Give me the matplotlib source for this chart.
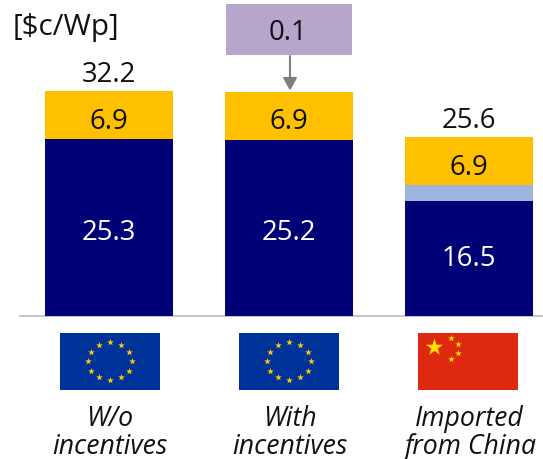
import numpy as np
import matplotlib
matplotlib.use("Agg")
import matplotlib.pyplot as plt
from matplotlib.patches import Rectangle

# Cost stack per sourcing case, in $c/Wp
categories = ["W/o\nincentives", "With\nincentives", "Imported\nfrom China"]
module_cost = [25.3, 25.2, 16.5]
freight_cost = [0.0, 0.0, 2.2]
bos_cost = [6.9, 6.9, 6.9]
totals = ["32.2", None, "25.6"]
incentive_label = "0.1"
unit_label = "[$c/Wp]"

NAVY = "#000077"
LIGHT = "#9DB5DC"
AMBER = "#FFC000"
INK = "#111111"

W, H = 543, 460
plt.rcParams["font.family"] = ["Open Sans", "DejaVu Sans"]
fig = plt.figure(figsize=(W / 100, H / 100), dpi=100)
ax = fig.add_axes([0, 0, 1, 1])

# Axis limits set so one category step is 180 px and one unit is 6.98 px
step, unit, x0, y0 = 180.0, 6.98, 109.0, 317.0
ax.set_xlim(-x0 / step, (W - x0) / step)
ax.set_ylim(-(H - y0) / unit, y0 / unit)
ax.axis("off")


def px(x):
    return (x - x0) / step


def py(y):
    return (y0 - y) / unit


xs = np.arange(len(categories))
bar_w = 128.5 / step
module = np.array(module_cost)
freight = np.array(freight_cost)
bos = np.array(bos_cost)
ax.bar(xs, module, bar_w, color=NAVY, zorder=2)
ax.bar(xs, freight, bar_w, bottom=module, color=LIGHT, zorder=2)
ax.bar(xs, bos, bar_w, bottom=module + freight, color=AMBER, zorder=2)

FS = 19.8
module_shift = [-0.6, -0.6, 0.05]
for i in xs:
    ax.text(i, module[i] / 2 + module_shift[i], f"{module[i]:.1f}", color="white",
            ha="center", va="center", fontsize=FS, zorder=3)
    ax.text(i, module[i] + freight[i] + bos[i] / 2 - 0.75, f"{bos[i]:.1f}", color=INK,
            ha="center", va="center", fontsize=FS, zorder=3)
    if totals[i]:
        ax.text(i, module[i] + freight[i] + bos[i] + 2.5, totals[i], color=INK,
                ha="center", va="center", fontsize=FS, zorder=3)

# Baseline
ax.plot([px(19), px(W)], [0, 0], color="#BFBFBF", lw=1.3, zorder=1, solid_capstyle="butt")

# Unit caption
ax.text(px(13), py(27.5), unit_label, color=INK, ha="left", va="center", fontsize=21.3)

# Incentive callout above the middle bar
ax.add_patch(Rectangle((px(226), py(56)), (352 - 226) / step, 51 / unit,
                       facecolor="#B7A6CC", edgecolor="none", zorder=2))
ax.text(px(288.5), py(33), incentive_label, color=INK, ha="center", va="center",
        fontsize=FS, zorder=3)
ax.annotate("", xy=(px(290), py(91.5)), xytext=(px(290), py(57)),
            arrowprops=dict(arrowstyle="-|>,head_width=0.42,head_length=0.75",
                            color="#7F7F7F", lw=1.5, shrinkA=0, shrinkB=0), zorder=3)


def flag_background(left, color):
    ax.add_patch(Rectangle((px(left), py(391)), 100 / step, 57.5 / unit,
                           facecolor=color, edgecolor="none", zorder=2))


def eu_flag(left):
    flag_background(left, "#003399")
    cx, cy, rx, ry = left + 50, 362.0, 22.3, 19.0
    ang = np.deg2rad(np.arange(12) * 30)
    ax.scatter(px(cx + rx * np.sin(ang)), py(cy - ry * np.cos(ang)), marker="*",
               s=26, color="#FFCC00", linewidths=0, zorder=3)


def china_flag(left):
    flag_background(left, "#DE2910")
    ax.scatter([px(left + 16)], [py(347.5)], marker="*", s=170,
               color="#FFDE00", linewidths=0, zorder=3)
    sx = np.array([33, 40, 40, 33]) + left
    sy = np.array([339, 345, 353.5, 359.5])
    ax.scatter(px(sx), py(sy), marker="*", s=26, color="#FFDE00", linewidths=0, zorder=3)


eu_flag(60)
eu_flag(239)
china_flag(418)

# Category captions
for i, label in zip(xs, categories):
    first, second = label.split("\n")
    ax.text(i + 0.004, py(419), first, style="italic", color=INK, ha="center", va="center", fontsize=19.2)
    ax.text(i + 0.004, py(447), second, style="italic", color=INK, ha="center", va="center", fontsize=19.2)

fig.savefig("out.png", dpi=100)
